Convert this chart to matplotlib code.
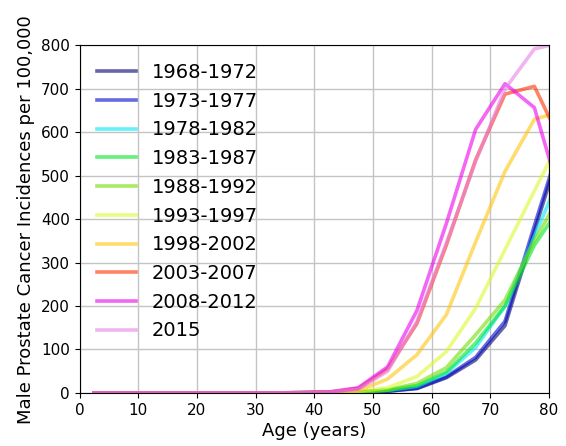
import matplotlib
matplotlib.use('Agg')
import matplotlib.pyplot as plt

# Age group midpoints (years)
ages = [2.5, 7.5, 12.5, 17.5, 22.5, 27.5, 32.5, 37.5, 42.5, 47.5,
        52.5, 57.5, 62.5, 67.5, 72.5, 77.5, 82.5]

periods = ['1968-1972', '1973-1977', '1978-1982', '1983-1987', '1988-1992',
           '1993-1997', '1998-2002', '2003-2007', '2008-2012', '2015']

# incidence per 100,000
inc_1968 = [0, 0, 0, 0, 0, 0, 0, 0.5, 1, 2, 4, 10, 35, 76, 155, 372, 590]
inc_1973 = [0, 0, 0, 0, 0, 0, 0, 0.5, 1, 2, 4, 11, 37, 82, 165, 385, 600]
inc_1978 = [0, 0, 0, 0, 0, 0, 0, 0.5, 1, 2, 6, 15, 45, 105, 200, 360, 520]
inc_1983 = [0, 0, 0, 0, 0, 0, 0, 0.5, 1, 2, 6, 17, 48, 115, 200, 340, 440]
inc_1988 = [0, 0, 0, 0, 0, 0, 0, 0.5, 1, 2, 7, 22, 58, 134, 214, 350, 470]
inc_1993 = [0, 0, 0, 0, 0, 0, 0, 0.5, 1, 3, 12, 38, 95, 195, 330, 465, 600]
inc_1998 = [0, 0, 0, 0, 0, 0, 0, 0.5, 1, 5, 32, 88, 180, 348, 510, 630, 650]
inc_2003 = [0, 0, 0, 0, 0, 0, 0, 0.5, 2, 10, 55, 160, 340, 537, 688, 706, 565]
inc_2008 = [0, 0, 0, 0, 0, 0, 0, 0.5, 2, 12, 60, 190, 390, 607, 712, 657, 425]
inc_2015 = [0, 0, 0, 0, 0, 0, 0, 0.5, 2, 8, 50, 165, 345, 533, 700, 792, 808]

series = [inc_1968, inc_1973, inc_1978, inc_1983, inc_1988,
          inc_1993, inc_1998, inc_2003, inc_2008, inc_2015]
colors = ['#000072', '#0008cc', '#00e6f7', '#00e628', '#71de00',
          '#def72f', '#ffc50d', '#ff2f00', '#ee00ee', '#e682e6']

fig = plt.figure(figsize=(5.66, 4.46), dpi=100)
ax = fig.add_axes([0.1405, 0.119, 0.8295, 0.779])

for vals, lab, c in zip(series, periods, colors):
    ax.plot(ages, vals, color=c, alpha=0.6, linewidth=2.6, label=lab)

ax.set_xlim(0, 80)
ax.set_ylim(0, 800)
ax.set_xticks(range(0, 81, 10))
ax.set_yticks(range(0, 801, 100))
ax.tick_params(labelsize=11)
ax.grid(True, color='#c4c4c4', linewidth=1)
ax.set_axisbelow(True)
ax.set_xlabel('Age (years)', fontsize=13, labelpad=3)
ax.set_ylabel('Male Prostate Cancer Incidences per 100,000', fontsize=13, labelpad=4)
ax.legend(loc='upper left', frameon=False, fontsize=14)

fig.savefig('out.png', dpi=100)
